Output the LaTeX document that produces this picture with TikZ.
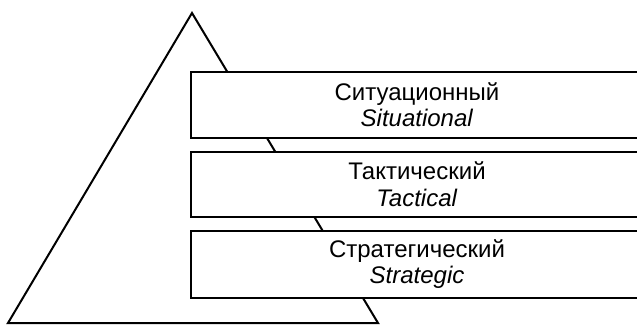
\documentclass[tikz,border=0pt]{standalone}
\usepackage{fontspec}
\setmainfont{Liberation Sans}
\begin{document}
\begin{tikzpicture}[x=1pt,y=1pt,
  line width=2pt,
  levelbox/.style={draw=black, fill=white, line width=2pt, minimum width=452pt,
    anchor=west, align=center, inner sep=0pt,
    font=\fontsize{24}{26.5}\selectfont},
  pyr/.style={draw=black, line width=2pt, line join=miter}]
\useasboundingbox (0,0) rectangle (637,325);
\clip (0,0) rectangle (637,325);
\coordinate (apex) at (192,312);
\coordinate (bl) at (8,2);
\coordinate (br) at (378,2);
\draw[pyr] (bl) -- (apex) -- (br) -- cycle;
\node[levelbox, minimum height=66pt] (sit) at (190,220.5) {Ситуационный\\\textit{Situational}};
\node[levelbox, minimum height=65.5pt] (tac) at (190,140.75) {Тактический\\\textit{Tactical}};
\node[levelbox, minimum height=66.5pt] (str) at (190,60.75) {Стратегический\\\textit{Strategic}};
\end{tikzpicture}
\end{document}
